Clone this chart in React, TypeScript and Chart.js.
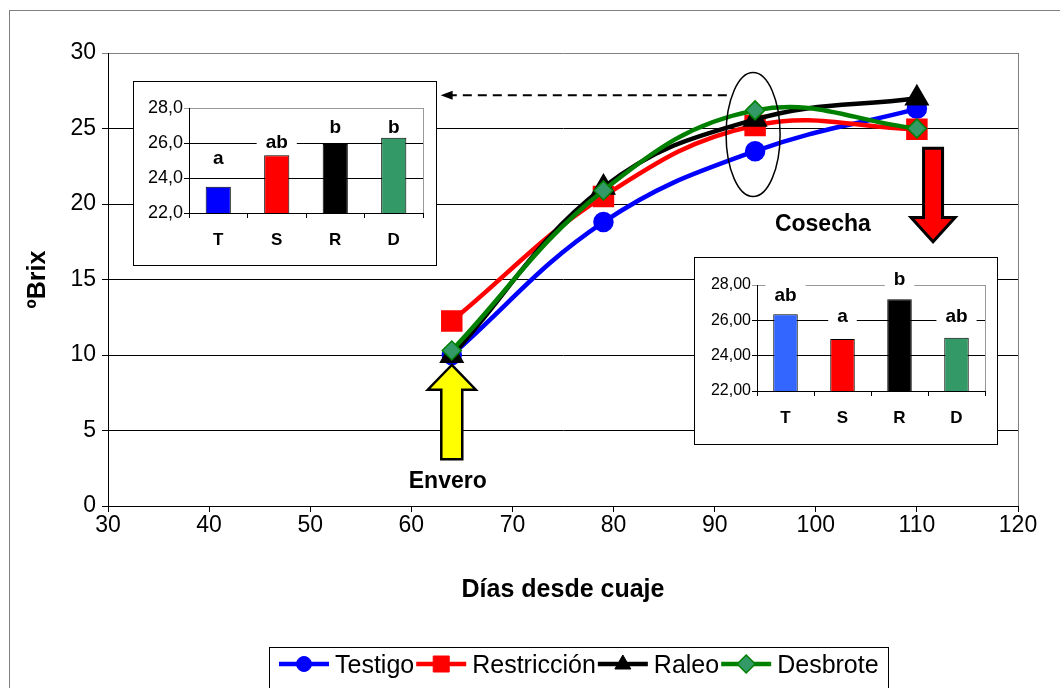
import React, { useEffect, useRef } from 'react';
import { Chart, registerables } from 'chart.js';

Chart.register(...registerables);

const FONT = '"Liberation Sans", Arial, sans-serif';
Chart.defaults.font.family = FONT;
Chart.defaults.color = '#000';

// ---- main chart data ----
const days = [64, 79, 94, 110];
const testigo = [10.0, 18.8, 23.5, 26.3];
const restriccion = [12.25, 20.5, 25.2, 24.95];
const raleo = [9.95, 21.1, 25.6, 27.0];
const desbrote = [10.3, 20.9, 26.2, 25.0];
const seriesNames = ['Testigo', 'Restricción', 'Raleo', 'Desbrote'];
const xTitle = 'Días desde cuaje';
const yTitle = 'ºBrix';

// ---- inset data ----
const insetCats = ['T', 'S', 'R', 'D'];
const inset1Values = [23.5, 25.3, 25.95, 26.3];
const inset1Letters = ['a', 'ab', 'b', 'b'];
const inset1LetterPos = [25.1, 26.0, 26.85, 26.85];
const inset1Colors = ['#0000FF', '#FF0000', '#000000', '#339966'];
const inset2Values = [26.35, 24.95, 27.2, 25.02];
const inset2Letters = ['ab', 'a', 'b', 'ab'];
const inset2LetterPos = [27.4, 26.2, 28.3, 26.2];
const inset2Colors = ['#3366FF', '#FF0000', '#000000', '#339966'];

const lineColors = ['#0000FF', '#FF0000', '#000000', '#008000'];
const markerFill = ['#0000FF', '#FF0000', '#000000', '#339966'];

function pts(vals: number[]) {
  return days.map((d, i) => ({ x: d, y: vals[i] }));
}

function arrowPath(ctx: CanvasRenderingContext2D, cx: number, tipY: number, headY: number, baseY: number, headHalf: number, shaftHalf: number) {
  ctx.beginPath();
  ctx.moveTo(cx, tipY);
  ctx.lineTo(cx + headHalf, headY);
  ctx.lineTo(cx + shaftHalf, headY);
  ctx.lineTo(cx + shaftHalf, baseY);
  ctx.lineTo(cx - shaftHalf, baseY);
  ctx.lineTo(cx - shaftHalf, headY);
  ctx.lineTo(cx - headHalf, headY);
  ctx.closePath();
}

function drawMarker(ctx: CanvasRenderingContext2D, i: number, x: number, y: number) {
  ctx.save();
  ctx.fillStyle = markerFill[i];
  ctx.strokeStyle = lineColors[i];
  ctx.lineWidth = 1;
  ctx.beginPath();
  if (i === 0) {
    ctx.arc(x, y, 7.5, 0, Math.PI * 2);
  } else if (i === 1) {
    ctx.rect(x - 8, y - 8, 16, 16);
  } else if (i === 2) {
    ctx.moveTo(x, y - 9);
    ctx.lineTo(x + 8, y + 5);
    ctx.lineTo(x - 8, y + 5);
    ctx.closePath();
  } else {
    ctx.moveTo(x, y - 9);
    ctx.lineTo(x + 9, y);
    ctx.lineTo(x, y + 9);
    ctx.lineTo(x - 9, y);
    ctx.closePath();
    ctx.lineWidth = 1.5;
  }
  ctx.fill();
  ctx.stroke();
  ctx.restore();
}

function MainChart() {
  const ref = useRef<HTMLCanvasElement>(null);
  useEffect(() => {
    const annot = {
      id: 'annot',
      beforeDraw(chart: any) {
        const ctx = chart.ctx;
        ctx.save();
        ctx.fillStyle = '#fff';
        ctx.fillRect(0, 0, chart.width, chart.height);
        ctx.strokeStyle = '#808080';
        ctx.lineWidth = 1;
        ctx.strokeRect(9.5, 10.5, 1200, 800);
        ctx.restore();
      },
      beforeDatasetsDraw(chart: any) {
        const { ctx, chartArea } = chart;
        ctx.save();
        ctx.strokeStyle = '#808080';
        ctx.lineWidth = 1;
        ctx.beginPath();
        ctx.moveTo(Math.round(chartArea.right) + 0.5, chartArea.top);
        ctx.lineTo(Math.round(chartArea.right) + 0.5, chartArea.bottom);
        ctx.stroke();
        ctx.restore();
      },
      afterDraw(chart: any) {
        const { ctx } = chart;
        const xs = chart.scales.x;
        const ys = chart.scales.y;
        const X = (v: number) => xs.getPixelForValue(v);
        const Y = (v: number) => ys.getPixelForValue(v);
        ctx.save();
        // Ellipse around day 94
        ctx.strokeStyle = '#000';
        ctx.lineWidth = 1.5;
        ctx.beginPath();
        ctx.ellipse(X(93.8), Y(24.6), 27, 62, 0, 0, Math.PI * 2);
        ctx.stroke();
        // dashed arrow
        const y0 = Y(27.2);
        const xa = X(91.2);
        const xb = X(62.9);
        ctx.setLineDash([9, 6]);
        ctx.lineWidth = 2;
        ctx.beginPath();
        ctx.moveTo(xa, y0);
        ctx.lineTo(xb + 8, y0);
        ctx.stroke();
        ctx.setLineDash([]);
        ctx.fillStyle = '#000';
        ctx.beginPath();
        ctx.moveTo(xb, y0);
        ctx.lineTo(xb + 12, y0 - 4.5);
        ctx.lineTo(xb + 12, y0 + 4.5);
        ctx.closePath();
        ctx.fill();
        // yellow arrow (Envero)
        arrowPath(ctx, X(64), Y(9.34), Y(7.7), Y(3.1), 24, 10.5);
        ctx.fillStyle = '#FFFF00';
        ctx.fill();
        ctx.lineWidth = 2.5;
        ctx.strokeStyle = '#000';
        ctx.stroke();
        // red arrow (Cosecha)
        arrowPath(ctx, X(111.6), Y(17.5), Y(19.1), Y(23.7), 22, 9.5);
        ctx.fillStyle = '#FF0000';
        ctx.fill();
        ctx.lineWidth = 3;
        ctx.stroke();
        // texts
        ctx.fillStyle = '#000';
        ctx.font = `bold 23px ${FONT}`;
        ctx.textAlign = 'center';
        ctx.textBaseline = 'middle';
        ctx.fillText('Envero', X(63.6), Y(1.6));
        ctx.fillText('Cosecha', X(100.7), Y(18.6));
        // legend
        ctx.strokeStyle = '#000';
        ctx.lineWidth = 1;
        ctx.strokeRect(269.5, 647.5, 619, 100);
        ctx.font = `25px ${FONT}`;
        ctx.textAlign = 'left';
        let lx = 279;
        const ly = 664;
        seriesNames.forEach((name, i) => {
          ctx.strokeStyle = lineColors[i];
          ctx.lineWidth = 4.5;
          ctx.beginPath();
          ctx.moveTo(lx, ly);
          ctx.lineTo(lx + 50, ly);
          ctx.stroke();
          drawMarker(ctx, i, lx + 25, ly);
          ctx.fillStyle = '#000';
          ctx.fillText(name, lx + 56, ly + 2);
          lx += 56 + ctx.measureText(name).width + 2;
        });
        ctx.restore();
      },
    };

    const chart = new Chart(ref.current as HTMLCanvasElement, {
      type: 'line',
      data: {
        datasets: [
          {
            label: seriesNames[0], data: pts(testigo), borderColor: lineColors[0], backgroundColor: markerFill[0],
            pointBackgroundColor: markerFill[0], pointBorderColor: lineColors[0], pointStyle: 'circle', pointRadius: 8,
            borderWidth: 4.5, tension: 0.4, order: 3,
          },
          {
            label: seriesNames[1], data: pts(restriccion), borderColor: lineColors[1], backgroundColor: markerFill[1],
            pointBackgroundColor: markerFill[1], pointBorderColor: lineColors[1], pointStyle: 'rect', pointRadius: 12,
            borderWidth: 4.5, tension: 0.4, order: 2,
          },
          {
            label: seriesNames[2], data: pts(raleo), borderColor: lineColors[2], backgroundColor: markerFill[2],
            pointBackgroundColor: markerFill[2], pointBorderColor: lineColors[2], pointStyle: 'triangle', pointRadius: 10,
            borderWidth: 4.5, tension: 0.4, order: 1,
          },
          {
            label: seriesNames[3], data: pts(desbrote), borderColor: lineColors[3], backgroundColor: markerFill[3],
            pointBackgroundColor: markerFill[3], pointBorderColor: lineColors[3], pointBorderWidth: 1.5, pointStyle: 'rectRot', pointRadius: 9.5,
            borderWidth: 4.5, tension: 0.4, order: 0,
          },
        ] as any,
      },
      options: {
        animation: false,
        responsive: false,
        devicePixelRatio: 1,
        layout: { padding: { left: 0, top: 53, right: 42, bottom: 83 } },
        plugins: { legend: { display: false }, tooltip: { enabled: false } },
        scales: {
          x: {
            type: 'linear', min: 30, max: 120,
            ticks: { stepSize: 10, font: { size: 23 }, padding: 0, color: '#000', maxRotation: 0 },
            grid: { drawOnChartArea: false, drawTicks: true, tickLength: 6, color: '#000' },
            border: { color: '#000' },
            title: { display: true, text: xTitle, font: { size: 25, weight: 'bold' }, color: '#000', padding: 0 },
            afterFit: (s: any) => { s.height = 99; },
          },
          y: {
            min: 0, max: 30,
            ticks: { stepSize: 5, font: { size: 23 }, padding: 6, color: '#000' },
            grid: { color: (c: any) => (c.tick && c.tick.value === 30 ? '#808080' : '#000'), tickLength: 6, drawTicks: true },
            border: { color: '#000' },
            title: { display: true, text: yTitle, font: { size: 25, weight: 'bold' }, color: '#000', padding: { top: 23, bottom: 0 } },
            afterFit: (s: any) => { s.width = 108; },
          },
        },
      } as any,
      plugins: [annot],
    });
    return () => chart.destroy();
  }, []);
  return (
    <canvas ref={ref} width={1060} height={688} style={{ position: 'fixed', left: 0, top: 0, width: 1060, height: 688 }} />
  );
}

type InsetProps = {
  left: number; top: number; w: number; h: number;
  values: number[]; colors: string[]; letters: string[]; letterPos: number[];
  decimals: number; yWidth: number; xHeight: number; padTop: number; padRight: number; tickFont: number;
};

function Inset(p: InsetProps) {
  const ref = useRef<HTMLCanvasElement>(null);
  useEffect(() => {
    const lettersPlugin = {
      id: 'letters',
      beforeDatasetsDraw(chart: any) {
        const { ctx, chartArea } = chart;
        const xs = chart.scales.x;
        const ys = chart.scales.y;
        ctx.save();
        ctx.strokeStyle = '#999';
        ctx.lineWidth = 1;
        ctx.beginPath();
        ctx.moveTo(Math.round(chartArea.right) + 0.5, chartArea.top);
        ctx.lineTo(Math.round(chartArea.right) + 0.5, chartArea.bottom);
        ctx.stroke();
        ctx.font = `bold 19px ${FONT}`;
        p.letters.forEach((t, i) => {
          const px = xs.getPixelForValue(i);
          const py = ys.getPixelForValue(p.letterPos[i]);
          const w = ctx.measureText(t).width;
          ctx.fillStyle = '#fff';
          ctx.fillRect(px - w / 2 - 9, py - 11, w + 18, 22);
        });
        ctx.restore();
      },
      afterDatasetsDraw(chart: any) {
        const { ctx } = chart;
        const xs = chart.scales.x;
        const ys = chart.scales.y;
        ctx.save();
        ctx.font = `bold 19px ${FONT}`;
        ctx.fillStyle = '#000';
        ctx.textAlign = 'center';
        ctx.textBaseline = 'middle';
        p.letters.forEach((t, i) => {
          ctx.fillText(t, xs.getPixelForValue(i), ys.getPixelForValue(p.letterPos[i]));
        });
        ctx.restore();
      },
    };
    const chart = new Chart(ref.current as HTMLCanvasElement, {
      type: 'bar',
      data: {
        labels: insetCats,
        datasets: [
          {
            data: p.values, backgroundColor: p.colors, borderColor: '#000', borderWidth: 1,
            barPercentage: 0.43, categoryPercentage: 1,
          },
        ],
      },
      options: {
        animation: false,
        responsive: false,
        devicePixelRatio: 1,
        layout: { padding: { left: 0, top: p.padTop, right: p.padRight, bottom: 0 } },
        plugins: { legend: { display: false }, tooltip: { enabled: false } },
        scales: {
          x: {
            ticks: { font: { size: 17, weight: 'bold' }, color: '#000', padding: 12 },
            grid: { drawOnChartArea: false, drawTicks: true, tickLength: 5, color: '#000', offset: true },
            border: { color: '#000' },
            afterFit: (s: any) => { s.height = p.xHeight; },
          },
          y: {
            min: 22, max: 28,
            ticks: {
              stepSize: 2, font: { size: p.tickFont }, color: '#000', padding: 1,
              callback: (v: any) => Number(v).toFixed(p.decimals).replace('.', ','),
            },
            grid: { color: (c: any) => (c.tick && c.tick.value === 28 ? '#999' : '#000'), tickLength: 5, drawTicks: true },
            border: { color: '#000' },
            afterFit: (s: any) => { s.width = p.yWidth; },
          },
        },
      } as any,
      plugins: [lettersPlugin],
    });
    return () => chart.destroy();
  }, []);
  return (
    <div style={{ position: 'fixed', left: p.left, top: p.top, width: p.w, height: p.h, border: '1px solid #000', background: '#fff', boxSizing: 'content-box' }}>
      <canvas ref={ref} width={p.w} height={p.h} style={{ display: 'block', width: p.w, height: p.h }} />
    </div>
  );
}

export default function App() {
  return (
    <div>
      <MainChart />
      <Inset left={133} top={81} w={302} h={183} values={inset1Values} colors={inset1Colors} letters={inset1Letters}
        letterPos={inset1LetterPos} decimals={1} yWidth={55} xHeight={52} padTop={26} padRight={13} tickFont={18} />
      <Inset left={694} top={257} w={302} h={186} values={inset2Values} colors={inset2Colors} letters={inset2Letters}
        letterPos={inset2LetterPos} decimals={2} yWidth={62} xHeight={53} padTop={27} padRight={12} tickFont={16} />
    </div>
  );
}
